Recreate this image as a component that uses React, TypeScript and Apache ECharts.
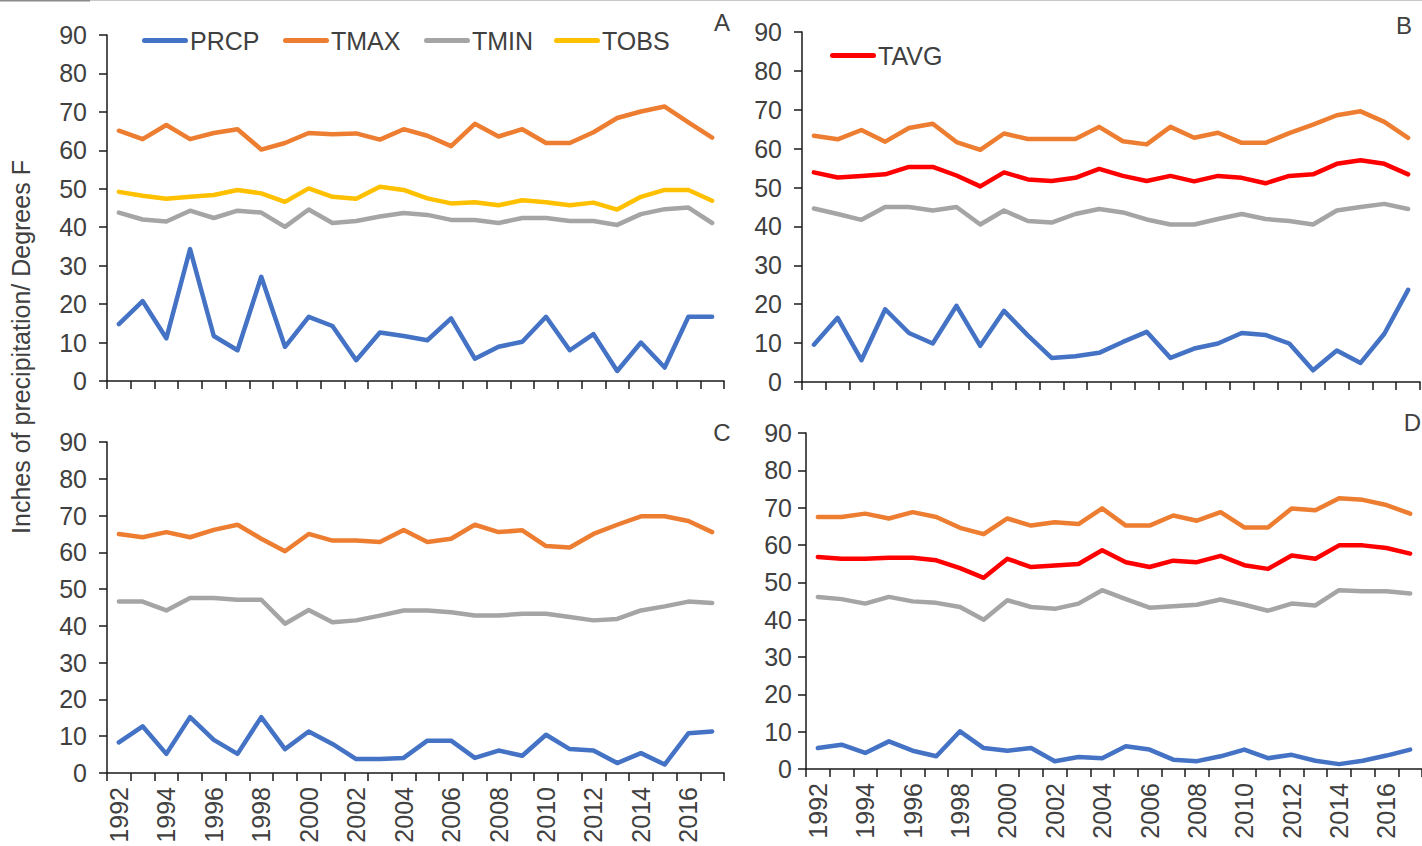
import React, { useEffect, useRef } from "react";
import * as echarts from "echarts";

const years = ["1992","1993","1994","1995","1996","1997","1998","1999","2000","2001","2002","2003","2004","2005","2006","2007","2008","2009","2010","2011","2012","2013","2014","2015","2016","2017"];

// Panel A
const prcpA = [14.8,20.8,11.1,34.3,11.7,8.0,27.1,8.9,16.7,14.3,5.4,12.6,11.7,10.6,16.3,5.8,8.9,10.2,16.7,8.0,12.2,2.6,10.0,3.5,16.7,16.7];
const tmaxA = [65.1,62.9,66.6,62.9,64.5,65.5,60.2,61.9,64.5,64.2,64.4,62.8,65.5,63.8,61.1,66.9,63.6,65.5,61.9,61.9,64.7,68.4,70.1,71.4,67.3,63.3];
const tminA = [43.8,42.0,41.5,44.3,42.4,44.3,43.8,40.1,44.6,41.1,41.6,42.8,43.7,43.2,41.9,41.9,41.1,42.4,42.4,41.6,41.6,40.6,43.4,44.7,45.1,41.1];
const tobsA = [49.2,48.2,47.4,47.9,48.4,49.7,48.8,46.6,50.1,47.9,47.4,50.5,49.7,47.5,46.2,46.5,45.7,47.0,46.5,45.7,46.4,44.6,47.9,49.7,49.7,46.9];

// Panel B
const prcpB = [9.6,16.5,5.6,18.7,12.6,9.9,19.6,9.3,18.3,12.0,6.2,6.6,7.5,10.3,12.9,6.2,8.6,9.9,12.6,12.1,9.9,3.0,8.1,4.9,12.4,23.7];
const tmaxB = [63.3,62.4,64.8,61.8,65.3,66.4,61.7,59.7,63.9,62.5,62.5,62.5,65.6,61.9,61.1,65.6,62.8,64.1,61.5,61.5,64.0,66.2,68.6,69.6,66.9,62.8];
const tminB = [44.6,43.2,41.7,45.0,45.0,44.1,45.0,40.5,44.1,41.4,41.0,43.2,44.5,43.6,41.8,40.5,40.5,41.9,43.2,41.9,41.4,40.5,44.1,45.0,45.8,44.5];
const tavgB = [53.9,52.6,53.0,53.4,55.3,55.3,53.1,50.3,53.9,52.1,51.7,52.5,54.8,53.0,51.7,53.0,51.6,53.0,52.5,51.1,53.0,53.4,56.1,57.0,56.1,53.4];

// Panel C
const prcpC = [8.3,12.7,5.2,15.2,9.0,5.2,15.2,6.5,11.3,7.9,3.8,3.8,4.1,8.8,8.8,4.1,6.1,4.7,10.4,6.5,6.1,2.7,5.4,2.3,10.8,11.3];
const tmaxC = [65.0,64.1,65.5,64.1,66.1,67.5,63.7,60.3,65.0,63.2,63.2,62.8,66.1,62.8,63.7,67.5,65.5,66.0,61.7,61.3,65.0,67.5,69.8,69.8,68.5,65.5];
const tminC = [46.6,46.6,44.2,47.6,47.6,47.1,47.1,40.6,44.3,41.0,41.5,42.8,44.2,44.2,43.7,42.8,42.8,43.3,43.3,42.4,41.5,41.9,44.2,45.3,46.6,46.2];

// Panel D
const prcpD = [5.6,6.5,4.3,7.4,4.9,3.4,10.1,5.6,4.9,5.6,2.1,3.2,2.9,6.1,5.2,2.5,2.1,3.4,5.2,2.9,3.8,2.2,1.3,2.2,3.6,5.2];
const tmaxD = [67.5,67.5,68.4,67.1,68.8,67.5,64.6,62.9,67.1,65.2,66.1,65.6,69.8,65.2,65.2,67.9,66.5,68.8,64.7,64.7,69.8,69.3,72.5,72.1,70.7,68.4];
const tminD = [46.1,45.5,44.3,46.1,44.9,44.5,43.4,40.0,45.2,43.4,42.9,44.3,47.9,45.5,43.2,43.6,44.0,45.4,44.0,42.4,44.3,43.8,47.9,47.6,47.6,47.0];
const tavgD = [56.8,56.3,56.3,56.6,56.6,55.9,53.8,51.2,56.3,54.1,54.5,54.9,58.6,55.4,54.1,55.8,55.4,57.1,54.6,53.6,57.2,56.3,59.9,59.9,59.2,57.7];

const panelLetters = ["A", "B", "C", "D"];
const yAxisTitle = "Inches of precipitation/ Degrees F";

const COLORS: Record<string, string> = {
  PRCP: "#4472C4",
  TMAX: "#ED7D31",
  TMIN: "#A5A5A5",
  TOBS: "#FFC000",
  TAVG: "#FF0000",
};

const FONT = "'Liberation Sans', Arial, Helvetica, sans-serif";
const TEXT = "#404040";
const AXIS = "#1a1a1a";

const grids = [
  { left: 107, top: 35, width: 617, height: 346 },
  { left: 802, top: 32, width: 618, height: 350 },
  { left: 107, top: 442, width: 617, height: 331 },
  { left: 806, top: 433, width: 618, height: 336 },
];
const yLabelMargins = [20, 20, 20, 14];

const panels: { name: string; data: number[] }[][] = [
  [
    { name: "PRCP", data: prcpA },
    { name: "TMAX", data: tmaxA },
    { name: "TMIN", data: tminA },
    { name: "TOBS", data: tobsA },
  ],
  [
    { name: "PRCP", data: prcpB },
    { name: "TMAX", data: tmaxB },
    { name: "TMIN", data: tminB },
    { name: "TAVG", data: tavgB },
  ],
  [
    { name: "PRCP", data: prcpC },
    { name: "TMAX", data: tmaxC },
    { name: "TMIN", data: tminC },
  ],
  [
    { name: "PRCP", data: prcpD },
    { name: "TMAX", data: tmaxD },
    { name: "TMIN", data: tminD },
    { name: "TAVG", data: tavgD },
  ],
];

const LEGEND_ICON = "path://M2.5,0 L43.5,0 A2.5,2.5 0 0 1 43.5,5 L2.5,5 A2.5,2.5 0 0 1 2.5,0 Z";

export default function App() {
  const ref = useRef<HTMLDivElement>(null);

  useEffect(() => {
    if (!ref.current) return;
    const chart = echarts.init(ref.current, undefined, { renderer: "svg" });

    const xAxes = grids.map((_, i) => ({
      type: "category",
      gridIndex: i,
      data: years,
      boundaryGap: true,
      axisLine: { show: true, lineStyle: { color: AXIS, width: 1.5 } },
      axisTick: { show: true, interval: 0, length: 8, lineStyle: { color: AXIS, width: 1.5 } },
      axisLabel: {
        show: i >= 2,
        interval: 1,
        rotate: 90,
        margin: 14,
        fontSize: 25,
        fontFamily: FONT,
        color: TEXT,
      },
      splitLine: { show: false },
    }));

    const yAxes = grids.map((_, i) => ({
      type: "value",
      gridIndex: i,
      min: 0,
      max: 90,
      interval: 10,
      axisLine: { show: true, lineStyle: { color: AXIS, width: 1.5 } },
      axisTick: { show: true, inside: false, length: 8, lineStyle: { color: AXIS, width: 1.5 } },
      axisLabel: {
        show: true,
        margin: yLabelMargins[i],
        fontSize: 25,
        fontFamily: FONT,
        color: TEXT,
      },
      splitLine: { show: false },
    }));

    const series: any[] = [];
    panels.forEach((list, i) => {
      list.forEach((s, k) => {
        series.push({
          type: "line",
          name: s.name,
          xAxisIndex: i,
          yAxisIndex: i,
          data: s.data,
          symbol: "none",
          showSymbol: false,
          smooth: false,
          z: 2 + k,
          color: COLORS[s.name],
          lineStyle: { color: COLORS[s.name], width: 4.5, cap: "round", join: "round" },
        });
      });
    });

    const legendBase = {
      orient: "horizontal",
      icon: LEGEND_ICON,
      itemWidth: 46,
      itemHeight: 5,
      padding: 0,
      selectedMode: false,
      textStyle: { fontSize: 25, fontFamily: FONT, color: TEXT, padding: [0, 0, 0, -3] },
    };
    const legends = [
      { ...legendBase, data: ["PRCP"], left: 142, top: 28 },
      { ...legendBase, data: ["TMAX"], left: 283, top: 28 },
      { ...legendBase, data: ["TMIN"], left: 424, top: 28 },
      { ...legendBase, data: ["TOBS"], left: 554, top: 28 },
      { ...legendBase, data: ["TAVG"], left: 830, top: 43 },
    ];

    const letterPos = [
      { x: 722, y: 22, align: "center" },
      { x: 1404, y: 25, align: "center" },
      { x: 722, y: 432, align: "center" },
      { x: 1421, y: 422, align: "right" },
    ];

    const graphic: any[] = [
      {
        type: "line",
        shape: { x1: 0, y1: 0.5, x2: 1422, y2: 0.5 },
        style: { stroke: "#c8c8c8", lineWidth: 1 },
        silent: true,
      },
      {
        type: "line",
        shape: { x1: 0, y1: 0.5, x2: 90, y2: 0.5 },
        style: { stroke: "#8a8a8a", lineWidth: 2 },
        silent: true,
      },
      {
        type: "text",
        x: 21,
        y: 347,
        rotation: Math.PI / 2,
        style: {
          text: yAxisTitle,
          fontSize: 25,
          fontFamily: FONT,
          fill: TEXT,
          align: "center",
          verticalAlign: "middle",
        },
      },
      ...panelLetters.map((t, i) => ({
        type: "text",
        x: letterPos[i].x,
        y: letterPos[i].y,
        style: {
          text: t,
          fontSize: 24,
          fontFamily: FONT,
          fill: TEXT,
          align: letterPos[i].align,
          verticalAlign: "middle",
        },
      })),
    ];

    chart.setOption({
      animation: false,
      backgroundColor: "#ffffff",
      grid: grids.map((g) => ({ ...g, containLabel: false })),
      xAxis: xAxes,
      yAxis: yAxes,
      legend: legends,
      series,
      graphic,
    });

    return () => {
      chart.dispose();
    };
  }, []);

  return (
    <div
      ref={ref}
      style={{ position: "absolute", left: 0, top: 0, width: 1422, height: 846, background: "#fff" }}
    />
  );
}
